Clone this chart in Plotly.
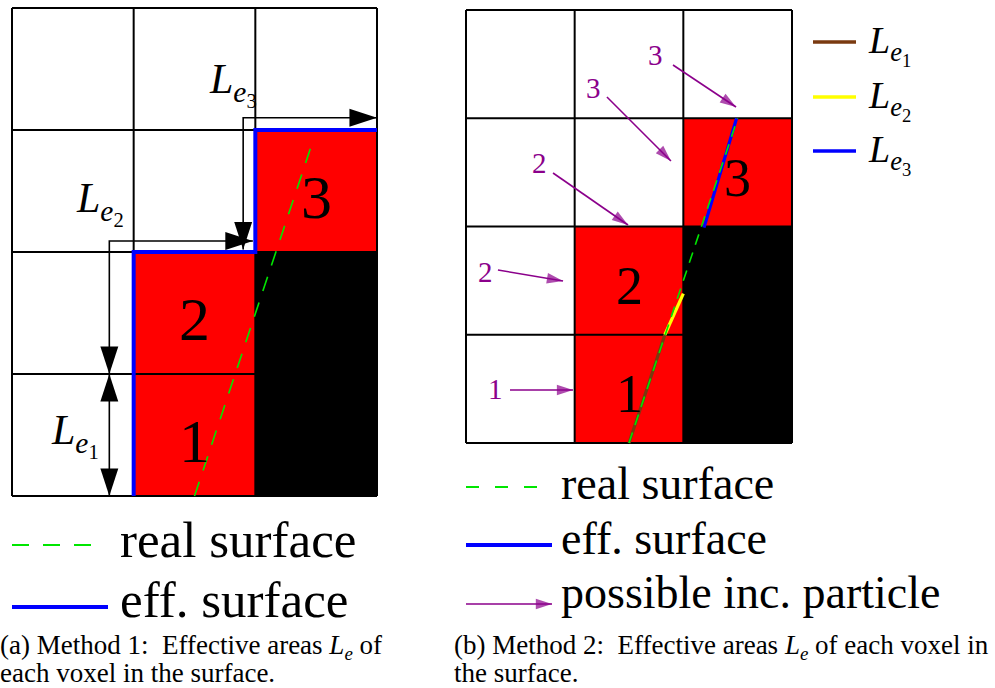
import math
import plotly.graph_objects as go

W, H = 995, 688
SERIF = "Liberation Serif"

# ---------------- voxel layout (3 columns x 4 rows, row 0 at the bottom) ----------------
N_COLS, N_ROWS = 3, 4
surface_voxels = [(1, 0), (1, 1), (2, 2)]      # red voxels, numbered 1..3
bulk_voxels = [(2, 0), (2, 1)]                 # black voxels
voxel_numbers = ["1", "2", "3"]

# ---------------- panel (a): method 1 ----------------
a_real_x = [1.5, 2.47]
a_real_y = [0.0, 2.9]
a_eff_x = [1, 1, 2, 2, 3]
a_eff_y = [0, 2, 2, 3, 3]
# dimension arrows for the effective lengths (heads at both ends of each path)
a_dim_x = [[1.9, 1.9, 3.0], [1.98, 0.8, 0.8], [0.8, 0.8]]
a_dim_y = [[2.02, 3.1, 3.1], [2.09, 2.09, 1.0], [1.0, 0.0]]
a_dim_sub = ["3", "2", "1"]
a_dim_label_x = [1.60, 0.51, 0.30]
a_dim_label_y = [3.38, 2.40, 0.50]

# ---------------- panel (b): method 2 ----------------
b_real_x = [1.5, 2.5]
b_real_y = [0.0, 3.0]
b_le_x = [[1.5, 1.83], [1.83, 2.0], [2.19, 2.49]]
b_le_y = [[0.0, 1.0], [1.0, 1.38], [1.99, 3.0]]
b_le_colors = ["#7a3a10", "#ffff00", "#0000ff"]
b_le_sub = ["1", "2", "3"]
# possible incoming particles
b_in_start_x = [1.905, 1.297, 0.801, 0.294, 0.405]
b_in_start_y = [3.492, 3.196, 2.494, 1.598, 0.490]
b_in_tip_x = [2.485, 1.886, 1.491, 0.893, 0.985]
b_in_tip_y = [3.104, 2.605, 2.014, 1.497, 0.490]
b_in_labels = ["3", "3", "2", "2", "1"]
b_in_label_x = [1.748, 1.169, 0.672, 0.175, 0.267]
b_in_label_y = [3.584, 3.279, 2.587, 1.580, 0.499]

RED, BLACK, BLUE, GREEN, PURPLE = "#ff0000", "#000000", "#0000ff", "#00e600", "#8b008b"

# panel placement on the page (pixel extents of the voxel grid)
PANELS = {
    "a": dict(xa="x", ya="y", px=(12, 377), py=(8, 496)),
    "b": dict(xa="x2", ya="y2", px=(466, 792), py=(10, 443)),
}
PAD = 0.06

fig = go.Figure()
layout_axes = {}


def unit(p):
    return (p["px"][1] - p["px"][0]) / N_COLS, (p["py"][1] - p["py"][0]) / N_ROWS


def add_axes(name, p):
    ux, uy = unit(p)
    x0, x1 = p["px"][0] - PAD * ux, p["px"][1] + PAD * ux
    y0, y1 = p["py"][0] - PAD * uy, p["py"][1] + PAD * uy
    suffix = "" if name == "a" else "2"
    common = dict(visible=False, fixedrange=True)
    layout_axes["xaxis" + suffix] = dict(domain=[x0 / W, x1 / W], range=[-PAD, N_COLS + PAD],
                                         anchor="y" + suffix, **common)
    layout_axes["yaxis" + suffix] = dict(domain=[1 - y1 / H, 1 - y0 / H], range=[-PAD, N_ROWS + PAD],
                                         anchor="x" + suffix, **common)


def head_angle(x_from, y_from, x_to, y_to, ux, uy):
    return math.degrees(math.atan2((x_to - x_from) * ux, (y_to - y_from) * uy))


shapes = []
annotations = []

for key, p in PANELS.items():
    add_axes(key, p)
    xa, ya = p["xa"], p["ya"]
    # voxels
    for cells, col in ((surface_voxels, RED), (bulk_voxels, BLACK)):
        for c, r in cells:
            shapes.append(dict(type="rect", xref=xa, yref=ya, x0=c, x1=c + 1, y0=r, y1=r + 1,
                               fillcolor=col, line=dict(width=0), layer="below"))
    # grid lines
    gx, gy = [], []
    for c in range(N_COLS + 1):
        gx += [c, c, None]
        gy += [0, N_ROWS, None]
    for r in range(N_ROWS + 1):
        gx += [0, N_COLS, None]
        gy += [r, r, None]
    fig.add_trace(go.Scatter(x=gx, y=gy, xaxis=xa, yaxis=ya, mode="lines",
                             line=dict(color=BLACK, width=2), hoverinfo="skip", showlegend=False))

# ---------- panel (a) marks ----------
pa = PANELS["a"]
uxa, uya = unit(pa)
fig.add_trace(go.Scatter(x=a_eff_x, y=a_eff_y, xaxis="x", yaxis="y", mode="lines",
                         line=dict(color=BLUE, width=4), showlegend=False, hoverinfo="skip"))
fig.add_trace(go.Scatter(x=a_real_x, y=a_real_y, xaxis="x", yaxis="y", mode="lines",
                         line=dict(color=GREEN, width=1.6, dash="15px,12px"),
                         showlegend=False, hoverinfo="skip"))
for xs, ys in zip(a_dim_x, a_dim_y):
    fig.add_trace(go.Scatter(x=xs, y=ys, xaxis="x", yaxis="y", mode="lines",
                             line=dict(color=BLACK, width=1.6), showlegend=False, hoverinfo="skip"))
    hx = [xs[0], xs[-1]]
    hy = [ys[0], ys[-1]]
    ang = [head_angle(xs[1], ys[1], xs[0], ys[0], uxa, uya),
           head_angle(xs[-2], ys[-2], xs[-1], ys[-1], uxa, uya)]
    fig.add_trace(go.Scatter(x=hx, y=hy, xaxis="x", yaxis="y", mode="markers",
                             marker=dict(symbol="arrow", size=29, color=BLACK, angle=ang,
                                         line=dict(width=0)),
                             showlegend=False, hoverinfo="skip"))
for sub, lx, ly in zip(a_dim_sub, a_dim_label_x, a_dim_label_y):
    annotations.append(dict(xref="x", yref="y", x=lx, y=ly, xanchor="left", yanchor="middle",
                            text="<i>L</i><sub><i>e</i><sub>%s</sub></sub>" % sub, showarrow=False,
                            font=dict(family=SERIF, size=42, color=BLACK)))

# ---------- panel (b) marks ----------
pb = PANELS["b"]
uxb, uyb = unit(pb)
for xs, ys, col in zip(b_le_x, b_le_y, b_le_colors):
    fig.add_trace(go.Scatter(x=xs, y=ys, xaxis="x2", yaxis="y2", mode="lines",
                             line=dict(color=col, width=3.2), showlegend=False, hoverinfo="skip"))
fig.add_trace(go.Scatter(x=b_real_x, y=b_real_y, xaxis="x2", yaxis="y2", mode="lines",
                         line=dict(color=GREEN, width=1.6, dash="11px,8px"),
                         showlegend=False, hoverinfo="skip"))
for sx, sy, tx, ty in zip(b_in_start_x, b_in_start_y, b_in_tip_x, b_in_tip_y):
    ang = head_angle(sx, sy, tx, ty, uxb, uyb)
    fig.add_trace(go.Scatter(x=[sx, tx], y=[sy, ty], xaxis="x2", yaxis="y2", mode="lines+markers",
                             line=dict(color=PURPLE, width=1.6),
                             marker=dict(symbol="arrow", size=[0, 17], color=PURPLE, angle=[0, ang],
                                         line=dict(width=0)),
                             showlegend=False, hoverinfo="skip"))
for t, lx, ly in zip(b_in_labels, b_in_label_x, b_in_label_y):
    annotations.append(dict(xref="x2", yref="y2", x=lx, y=ly, text=t, showarrow=False,
                            font=dict(family=SERIF, size=29, color=PURPLE)))

# voxel numbers in both panels
for key, xa, ya, size in (("a", "x", "y", 62), ("b", "x2", "y2", 54)):
    for (c, r), t in zip(surface_voxels, voxel_numbers):
        annotations.append(dict(xref=xa, yref=ya, x=c + 0.5, y=r + 0.45, text=t, showarrow=False,
                                font=dict(family=SERIF, size=size, color=BLACK)))

# ---------- legends and captions (page pixel coordinates on an overlay axis) ----------
layout_axes["xaxis3"] = dict(domain=[0, 1], range=[0, W], visible=False, fixedrange=True, anchor="y3")
layout_axes["yaxis3"] = dict(domain=[0, 1], range=[H, 0], visible=False, fixedrange=True, anchor="x3")


def page_line(x0, x1, y, color, width, dash="solid"):
    fig.add_trace(go.Scatter(x=[x0, x1], y=[y, y], xaxis="x3", yaxis="y3", mode="lines",
                             line=dict(color=color, width=width, dash=dash),
                             showlegend=False, hoverinfo="skip"))


def page_text(x, y, text, size, color=BLACK, shift=0):
    annotations.append(dict(xref="x3", yref="y3", x=x, y=y, xanchor="left", yanchor="middle",
                            xshift=shift, text=text, showarrow=False,
                            font=dict(family=SERIF, size=size, color=color)))


# legend of panel (a)
page_line(12, 92, 545, GREEN, 2, "17px,14px")
page_text(118, 540, "real surface", 51)
page_line(12, 108, 607, BLUE, 4)
page_text(118, 600, "eff. surface", 51)

# legend of panel (b)
page_line(466, 539, 487, GREEN, 2, "13px,16px")
page_text(559, 483, "real surface", 46)
page_line(466, 552, 545, BLUE, 4)
page_text(559, 538, "eff. surface", 46)
fig.add_trace(go.Scatter(x=[466, 552], y=[604, 604], xaxis="x3", yaxis="y3", mode="lines+markers",
                         line=dict(color=PURPLE, width=1.6),
                         marker=dict(symbol="arrow", size=[0, 17], color=PURPLE, angle=[0, 90],
                                     line=dict(width=0)),
                         showlegend=False, hoverinfo="skip"))
page_text(559, 592, "possible inc. particle", 46)

# effective-length key of panel (b)
for col, sub, y in zip(b_le_colors, b_le_sub, [42, 97, 151]):
    page_line(813, 856, y, col, 3.5)
    page_text(866, y + 3, "<i>L</i><sub><i>e</i><sub>%s</sub></sub>" % sub, 38)

# captions
CAP = 27
page_text(0, 647, "(a) Method 1:  Effective areas <i>L</i><sub><i>e</i></sub> of", CAP, shift=-2)
page_text(0, 673, "each voxel in the surface.", CAP, shift=-2)
page_text(452, 647, "(b) Method 2:  Effective areas <i>L</i><sub><i>e</i></sub> of each voxel in", CAP)
page_text(452, 673, "the surface.", CAP)

fig.update_layout(
    width=W, height=H, margin=dict(l=0, r=0, t=0, b=0),
    paper_bgcolor="white", plot_bgcolor="rgba(0,0,0,0)",
    shapes=shapes, annotations=annotations, showlegend=False,
    **layout_axes,
)

fig.write_html("out.html")
